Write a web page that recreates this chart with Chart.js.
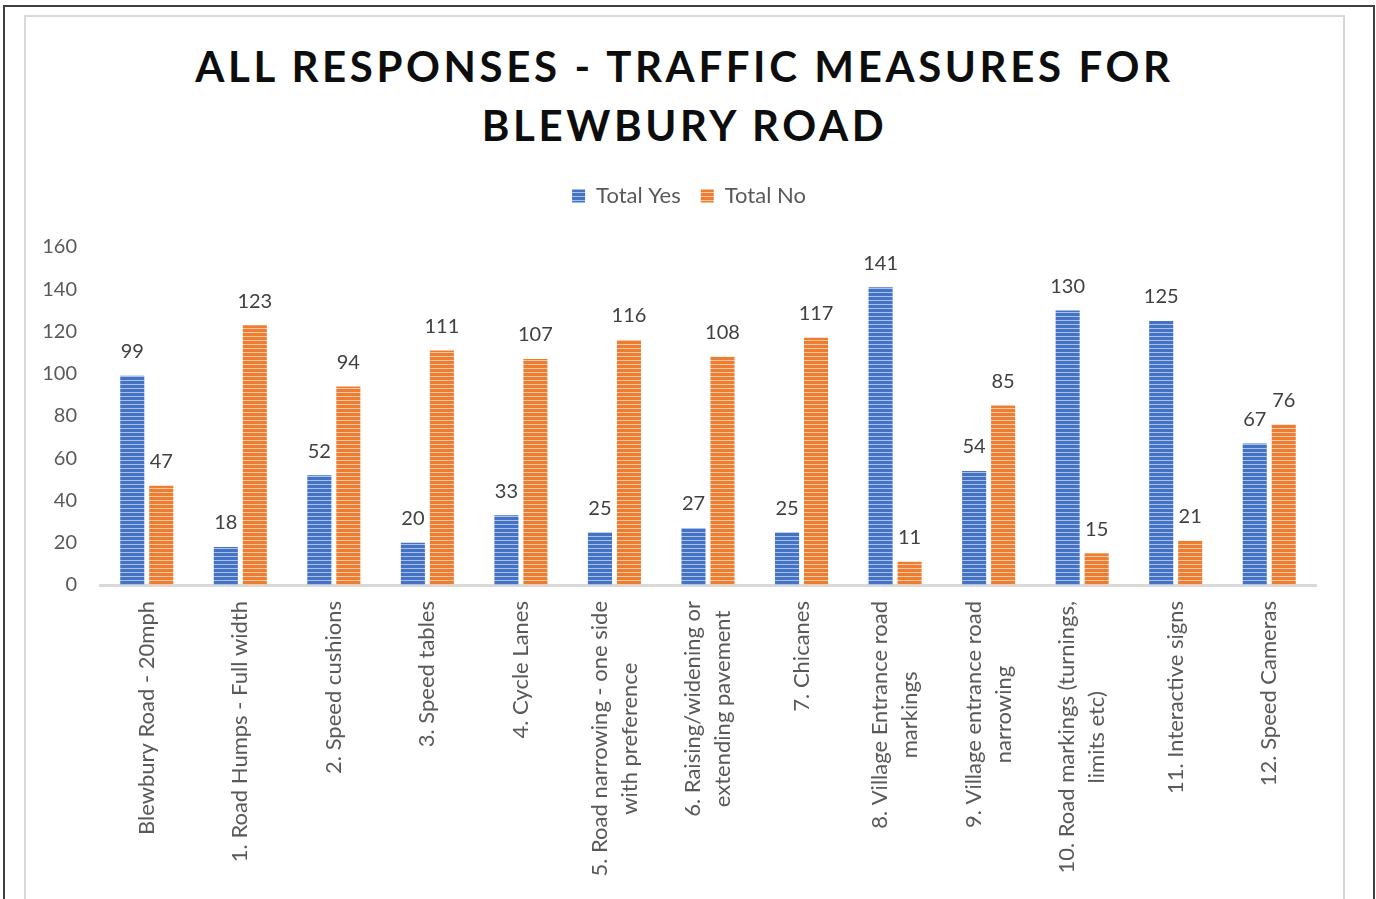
<!DOCTYPE html>
<html>
<head>
<meta charset="utf-8">
<script src="https://cdn.jsdelivr.net/npm/chart.js@4.4.1/dist/chart.umd.min.js"></script>
<style>
  html, body { margin: 0; padding: 0; background: #fff; overflow: hidden; }
  #outer { position: absolute; left: 3px; top: 5px; width: 1368px; height: 1000px;
           border: 2px solid #404040; }
  #inner { position: absolute; left: 19px; top: 8px; width: 1317px; height: 1000px;
           border: 2px solid #d9d9d9; }
  h1 { position: absolute; left: 0; top: 20px; width: 100%; margin: 0; text-align: center;
       font: bold 42px Lato, sans-serif; letter-spacing: 3.6px; line-height: 59px; color: #0d0d0d; }
  #wrap { position: absolute; left: 0; top: 0; width: 1319px; height: 883px; }
</style>
</head>
<body>
<div id="outer">
  <div id="inner">
    <h1>ALL RESPONSES - TRAFFIC MEASURES FOR<br>BLEWBURY ROAD</h1>
    <div id="wrap"><canvas id="chart"></canvas></div>
  </div>
</div>
<script>
const categories = [
    'Blewbury Road - 20mph',
    '1. Road Humps - Full width',
    '2. Speed cushions',
    '3. Speed tables',
    '4. Cycle Lanes',
    ['5. Road narrowing - one side', 'with preference'],
    ['6. Raising/widening or', 'extending pavement'],
    '7. Chicanes',
    ['8. Village Entrance road', 'markings'],
    ['9. Village entrance road', 'narrowing'],
    ['10. Road markings (turnings,', 'limits etc)'],
    '11. Interactive signs',
    '12. Speed Cameras',
];
const totalYes = [99, 18, 52, 20, 33, 25, 27, 25, 141, 54, 130, 125, 67];
const totalNo = [47, 123, 94, 111, 107, 116, 108, 117, 11, 85, 15, 21, 76];
const yTicks = [0, 20, 40, 60, 80, 100, 120, 140, 160];

const font = 'Lato, sans-serif';

// horizontal stripes like the Excel pattern fill
function stripes(dark, light) {
    const c = document.createElement('canvas');
    c.width = 4;
    c.height = 4;
    const g = c.getContext('2d');
    g.fillStyle = dark;
    g.fillRect(0, 0, 4, 4);
    g.fillStyle = light;
    g.fillRect(0, 3, 4, 1);
    return g.createPattern(c, 'repeat');
}

// empty box between legend and plot, pushes the plot down
const spacer = {
    id: 'spacer',
    beforeInit(chart) {
        Chart.layouts.addBox(chart, {
            position: 'top',
            weight: 500,
            fullSize: true,
            options: {},
            width: 0,
            height: 0,
            update(maxWidth) { this.width = maxWidth; this.height = 30; },
            isHorizontal() { return true; },
            getPadding() { return {top: 0, left: 0, right: 0, bottom: 0}; },
            draw() {}
        });
    },
    afterLayout(chart) {
        // nudge the legend a little to the right, as in the original
        chart.legend.left += 18;
        chart.legend.right += 18;
    }
};

const valueLabels = {
    id: 'valueLabels',
    afterDatasetsDraw(chart) {
        const ctx = chart.ctx;
        ctx.save();
        ctx.font = '20px ' + font;
        ctx.fillStyle = '#404040';
        ctx.textAlign = 'center';
        ctx.textBaseline = 'bottom';
        chart.data.datasets.forEach(function (ds, i) {
            chart.getDatasetMeta(i).data.forEach(function (bar, j) {
                ctx.fillText(ds.data[j], bar.x, bar.y - 14);
            });
        });
        ctx.restore();
    }
};

// category labels, rotated, wrapped lines centred on each other like Excel
const xLabels = {
    id: 'xLabels',
    afterDraw(chart) {
        const scale = chart.scales.x;
        const ctx = chart.ctx;
        const lh = 30;
        ctx.save();
        ctx.font = '22px ' + font;
        ctx.fillStyle = '#595959';
        ctx.textAlign = 'right';
        ctx.textBaseline = 'middle';
        categories.forEach(function (label, i) {
            const lines = [].concat(label);
            const widths = lines.map(function (l) { return ctx.measureText(l).width; });
            const maxW = Math.max.apply(null, widths);
            ctx.save();
            ctx.translate(scale.getPixelForTick(i), scale.top + 16);
            ctx.rotate(-Math.PI / 2);
            lines.forEach(function (l, k) {
                ctx.fillText(l, -(maxW - widths[k]) / 2, (k - (lines.length - 1) / 2) * lh);
            });
            ctx.restore();
        });
        ctx.restore();
    }
};

const ctx = document.getElementById('chart').getContext('2d');
new Chart(ctx, {
    type: 'bar',
    data: {
        labels: categories,
        datasets: [{
            label: 'Total Yes',
            data: totalYes,
            backgroundColor: stripes('#4472c4', '#a9c0ea'),
        }, {
            label: 'Total No',
            data: totalNo,
            backgroundColor: stripes('#ed7d31', '#f8c8a6'),
        }]
    },
    options: {
        responsive: true,
        maintainAspectRatio: false,
        animation: false,
        categoryPercentage: 0.62,
        barPercentage: 0.83,
        layout: { padding: { top: 148, right: 29, left: 0, bottom: 0 } },
        plugins: {
            tooltip: { enabled: false },
            legend: {
                position: 'top',
                labels: {
                    boxWidth: 13,
                    boxHeight: 13,
                    padding: 20,
                    color: '#595959',
                    font: { family: font, size: 22 },
                }
            }
        },
        scales: {
            x: {
                grid: { display: false },
                border: { display: true, color: '#d9d9d9', width: 3 },
                ticks: { display: false, autoSkip: false },
                afterFit: function (scale) { scale.height = 315; }
            },
            y: {
                min: 0,
                max: 160,
                grid: { display: false },
                border: { display: false },
                afterBuildTicks: function (scale) {
                    scale.ticks = yTicks.map(function (v) { return {value: v}; });
                },
                ticks: {
                    padding: 15,
                    color: '#595959',
                    font: { family: font, size: 20 },
                },
                afterFit: function (scale) { scale.width = 74; }
            }
        }
    },
    plugins: [spacer, valueLabels, xLabels]
});
</script>
</body>
</html>
